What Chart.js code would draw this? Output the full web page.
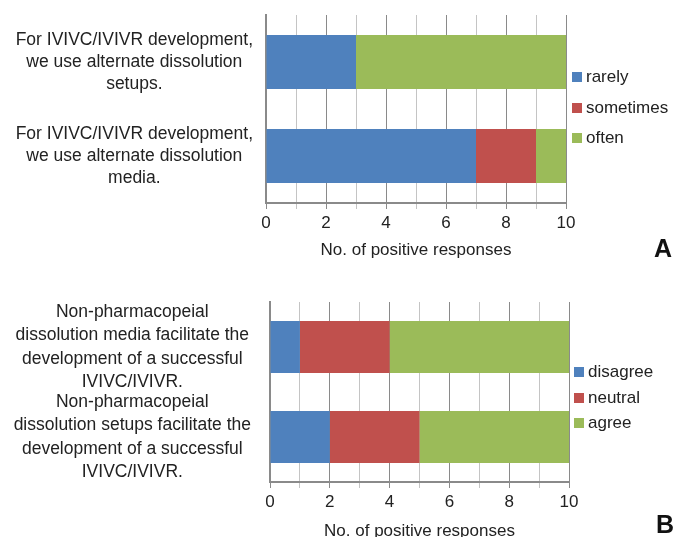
<!DOCTYPE html>
<html lang="en">
  <head>
    <meta charset="UTF-8" />
    <title>Dissolution survey</title>
    <script src="https://cdn.jsdelivr.net/npm/chart.js"></script>
    <style>
      html, body {
        margin: 0;
        padding: 0;
        background: #fff;
        overflow: hidden;
        font-family: "Liberation Sans", Arial, sans-serif;
      }
      .page {
        position: relative;
        width: 675px;
        height: 537px;
        overflow: hidden;
      }
      canvas {
        position: absolute;
        left: 0;
      }
      .legend {
        position: absolute;
        font-size: 17px;
        color: #222;
      }
      .legend .item {
        position: absolute;
        white-space: nowrap;
        line-height: 20px;
      }
      .legend .box {
        display: inline-block;
        width: 10px;
        height: 10px;
        margin-right: 4px;
        vertical-align: 0px;
      }
      .panel {
        position: absolute;
        font-weight: bold;
        font-size: 25px;
        color: #111;
      }
    </style>
  </head>
  <body>
    <div class="page">
      <canvas id="chartA" width="675" height="265" style="top:0"></canvas>
      <canvas id="chartB" width="675" height="280" style="top:270px"></canvas>
      <div class="legend" id="legendA" style="left:572px; top:67px"></div>
      <div class="legend" id="legendB" style="left:574px; top:362px"></div>
      <div class="panel" style="left:654px; top:234px">A</div>
      <div class="panel" style="left:656px; top:510px">B</div>
    </div>

    <script>
      // panel A
      const catsA = [
        ["For IVIVC/IVIVR development,", "we use alternate dissolution", "setups."],
        ["For IVIVC/IVIVR development,", "we use alternate dissolution", "media."],
      ];
      const rarely = [3, 7];
      const sometimes = [0, 2];
      const often = [7, 1];

      // panel B
      const catsB = [
        ["Non-pharmacopeial", "dissolution media facilitate the", "development of a successful", "IVIVC/IVIVR."],
        ["Non-pharmacopeial", "dissolution setups facilitate the", "development of a successful", "IVIVC/IVIVR."],
      ];
      const disagree = [1, 2];
      const neutral = [3, 3];
      const agree = [6, 5];

      const xMin = 0;
      const xMax = 10;
      const axisTitle = "No. of positive responses";

      const BLUE = "#4f81bd";
      const RED = "#c0504d";
      const GREEN = "#9bbb59";

      Chart.defaults.font.family = '"Liberation Sans", Arial, sans-serif';
      Chart.defaults.color = "#222";

      function makeChart(id, labels, series, box, legendId, legendGap) {
        const datasets = series.map((s) => ({
          label: s.name,
          data: s.data,
          backgroundColor: s.color,
          borderWidth: 0,
          barPercentage: box.bar,
          categoryPercentage: 1,
        }));

        new Chart(document.getElementById(id), {
          type: "bar",
          data: { labels, datasets },
          options: {
            indexAxis: "y",
            responsive: false,
            animation: false,
            layout: {
              padding: { top: box.top, right: box.right, bottom: 0, left: 0 },
            },
            plugins: { legend: { display: false }, tooltip: { enabled: false } },
            scales: {
              x: {
                stacked: true,
                min: xMin,
                max: xMax,
                afterFit: (scale) => {
                  scale.height = box.xHeight;
                  scale.paddingLeft = 0;
                  scale.paddingRight = 0;
                },
                ticks: {
                  stepSize: 1,
                  autoSkip: false,
                  maxRotation: 0,
                  padding: 4,
                  font: { size: 17 },
                  callback: (v) => (v % 2 === 0 ? v : ""),
                },
                grid: {
                  color: (c) => (c.tick && c.tick.value % 2 === 0 ? "#8a8a8a" : "#c4c4c4"),
                  lineWidth: 1,
                  tickLength: 6,
                },
                border: { color: "#8a8a8a", width: 2 },
                title: {
                  display: true,
                  text: axisTitle,
                  font: { size: 17 },
                  padding: { top: 0, bottom: box.titlePad },
                },
              },
              y: {
                stacked: true,
                afterFit: (scale) => {
                  scale.width = box.left;
                  scale.paddingTop = 0;
                  scale.paddingBottom = 0;
                },
                ticks: {
                  autoSkip: false,
                  crossAlign: "center",
                  padding: box.labelPad,
                  font: { size: 17.5, lineHeight: box.lh },
                },
                grid: { display: false },
                border: { color: "#8a8a8a", width: 2 },
              },
            },
          },
        });

        // html legend from the same series
        const legend = document.getElementById(legendId);
        series.forEach((s, i) => {
          const item = document.createElement("div");
          item.className = "item";
          item.style.top = i * legendGap + "px";
          item.innerHTML = `<span class="box" style="background:${s.color}"></span>${s.name}`;
          legend.appendChild(item);
        });
      }

      makeChart(
        "chartA",
        catsA,
        [
          { name: "rarely", data: rarely, color: BLUE },
          { name: "sometimes", data: sometimes, color: RED },
          { name: "often", data: often, color: GREEN },
        ],
        { top: 15, right: 109, left: 266, xHeight: 62, titlePad: 4, bar: 0.575, lh: 1.27, labelPad: 5 },
        "legendA",
        30.5
      );

      makeChart(
        "chartB",
        catsB,
        [
          { name: "disagree", data: disagree, color: BLUE },
          { name: "neutral", data: neutral, color: RED },
          { name: "agree", data: agree, color: GREEN },
        ],
        { top: 32, right: 106, left: 270, xHeight: 68, titlePad: 8, bar: 0.58, lh: 1.34, labelPad: 11 },
        "legendB",
        25.5
      );
    </script>
  </body>
</html>
